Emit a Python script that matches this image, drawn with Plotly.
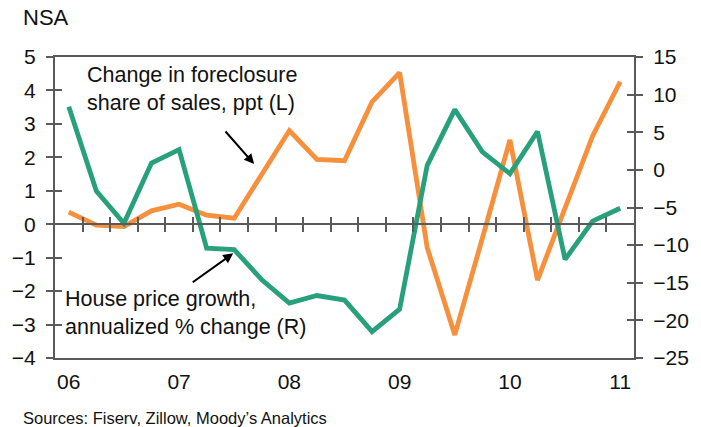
import plotly.graph_objects as go

# ---- data ----
quarters = ["06Q1", "06Q2", "06Q3", "06Q4", "07Q1", "07Q2", "07Q3", "07Q4",
            "08Q1", "08Q2", "08Q3", "08Q4", "09Q1", "09Q2", "09Q3", "09Q4",
            "10Q1", "10Q2", "10Q3", "10Q4", "11Q1"]
foreclosure_share_chg = [0.36, -0.03, -0.07, 0.40, 0.60, 0.27, 0.18, 1.50, 2.80, 1.94,
                         1.90, 3.66, 4.53, -0.70, -3.31, -0.42, 2.52, -1.67, 0.48, 2.64, 4.26]
house_price_growth = [8.4, -2.8, -7.1, 0.9, 2.7, -10.4, -10.6, -14.6, -17.7, -16.7,
                      -17.3, -21.5, -18.5, 0.6, 8.0, 2.4, -0.5, 5.1, -11.9, -6.8, -5.1]
year_labels = ["06", "07", "08", "09", "10", "11"]

x_idx = list(range(len(quarters)))
year_pos = [i for i, q in enumerate(quarters) if q.endswith("Q1")]
boundaries = [i + 0.5 for i in x_idx[:-1]]
xr = [-0.5, len(quarters) - 0.5]

ORANGE = "#F6903C"
GREEN = "#27A07B"
AXIS = "#5A5A5A"
TEXT = "#111111"
FONT = "Liberation Sans, Arial, sans-serif"

fig = go.Figure()
fig.add_trace(go.Scatter(x=x_idx, y=foreclosure_share_chg, mode="lines",
                         line=dict(color=ORANGE, width=4.8), xaxis="x", yaxis="y",
                         hoverinfo="skip"))
fig.add_trace(go.Scatter(x=x_idx, y=house_price_growth, mode="lines",
                         line=dict(color=GREEN, width=4.8), xaxis="x", yaxis="y2",
                         hoverinfo="skip"))
# empty helper traces so the tick-only overlay axes get drawn
fig.add_trace(go.Scatter(x=[None], y=[None], xaxis="x2", yaxis="y3", hoverinfo="skip"))
fig.add_trace(go.Scatter(x=[None], y=[None], xaxis="x3", yaxis="y4", hoverinfo="skip"))

tick_common = dict(tickcolor=AXIS, tickwidth=2, ticklen=7)

fig.update_layout(
    width=701, height=427,
    margin=dict(l=50, r=50, t=57, b=69),
    paper_bgcolor="white", plot_bgcolor="white",
    showlegend=False,
    font=dict(family=FONT, size=21, color=TEXT),
    xaxis=dict(range=xr, tickvals=year_pos, ticktext=year_labels, ticks="",
               showline=True, linecolor=AXIS, linewidth=2, mirror=True,
               showgrid=False, zeroline=False, ticklabelstandoff=4,
               tickfont=dict(size=21)),
    xaxis2=dict(range=xr, overlaying="x", anchor="free", position=4 / 9,
                tickvals=boundaries, ticks="outside", showticklabels=False,
                showline=True, linecolor=AXIS, linewidth=2, showgrid=False,
                zeroline=False, **tick_common),
    xaxis3=dict(range=xr, overlaying="x", anchor="free", position=4 / 9,
                tickvals=boundaries, ticks="inside", showticklabels=False,
                showline=False, showgrid=False, zeroline=False, **tick_common),
    yaxis=dict(range=[-4, 5], dtick=1, ticks="outside", showline=True,
               linecolor=AXIS, linewidth=2, showgrid=False, zeroline=False,
               ticklabelstandoff=6, tickfont=dict(size=21), **tick_common),
    yaxis2=dict(range=[-25, 15], dtick=5, overlaying="y", side="right", anchor="x",
                ticks="outside", showline=True, linecolor=AXIS, linewidth=2,
                showgrid=False, zeroline=False, ticklabelstandoff=6,
                tickfont=dict(size=21), **tick_common),
    yaxis3=dict(range=[-4, 5], dtick=1, overlaying="y", side="left", anchor="x",
                ticks="inside", showticklabels=False, showline=False,
                showgrid=False, zeroline=False, **tick_common),
    yaxis4=dict(range=[-25, 15], dtick=5, overlaying="y", side="right", anchor="x",
                ticks="inside", showticklabels=False, showline=False,
                showgrid=False, zeroline=False, **tick_common),
)

annos = [
    dict(text="NSA", x=-0.058, y=1.13, xref="paper", yref="paper",
         xanchor="left", yanchor="middle", showarrow=False, font=dict(size=22)),
    dict(text="Sources: Fiserv, Zillow, Moody’s Analytics", x=-0.058, y=-0.199,
         xref="paper", yref="paper", xanchor="left", yanchor="middle",
         showarrow=False, font=dict(size=16.5)),
    dict(text="Change in foreclosure<br>share of sales, ppt (L)", x=0.051, y=0.894,
         xref="paper", yref="paper", xanchor="left", yanchor="middle",
         align="left", showarrow=False, font=dict(size=21.5)),
    dict(text="House price growth,<br>annualized % change (R)", x=0.014, y=0.1495,
         xref="paper", yref="paper", xanchor="left", yanchor="middle",
         align="left", showarrow=False, font=dict(size=21.5)),
    dict(text="", x=0.344, y=0.6445, xref="paper", yref="paper", showarrow=True,
         ax=-30, ay=-34, axref="pixel", ayref="pixel", arrowhead=2, arrowsize=1,
         arrowwidth=2, arrowcolor="#000000"),
    dict(text="", x=0.3078, y=0.3478, xref="paper", yref="paper", showarrow=True,
         ax=-42, ay=30, axref="pixel", ayref="pixel", arrowhead=2, arrowsize=1,
         arrowwidth=2, arrowcolor="#000000"),
]
fig.update_layout(annotations=annos)

fig.write_html("out.html", config={"displayModeBar": False},
               post_script="document.body.style.margin='0';document.body.style.overflow='hidden';")
